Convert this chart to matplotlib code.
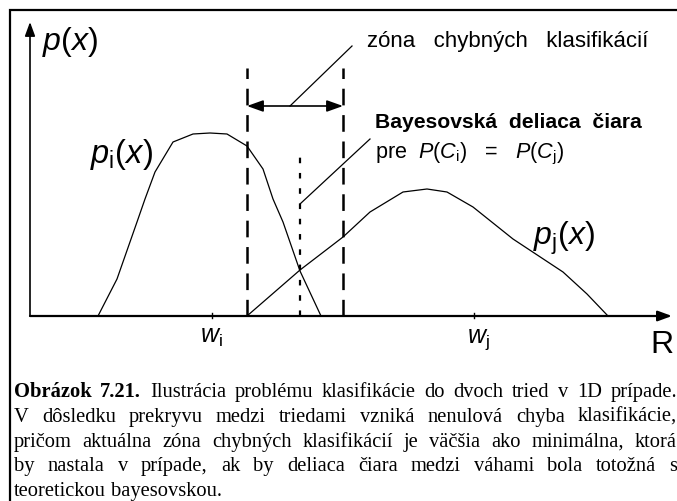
import matplotlib
matplotlib.use("Agg")
import matplotlib.pyplot as plt

plt.rcParams['font.family'] = ['Liberation Sans', 'DejaVu Sans']
plt.rcParams['mathtext.fontset'] = 'custom'
plt.rcParams['mathtext.rm'] = 'Liberation Sans'
plt.rcParams['mathtext.it'] = 'Liberation Sans:italic'
plt.rcParams['mathtext.bf'] = 'Liberation Sans:bold'
plt.rcParams['lines.scale_dashes'] = False

# class-conditional densities (sketch, arbitrary units)
xi = [6.8, 8.7, 10.7, 11.5, 12.5, 14.3, 16.3, 18.0, 19.7, 21.7, 23.3, 24.3, 25.3, 27.0, 29.1]
pi = [0.0, 3.7, 9.4, 11.7, 14.4, 17.4, 18.2, 18.3, 18.2, 17.0, 14.7, 11.7, 9.4, 4.5, 0.0]
xj = [21.7, 27.0, 30.0, 31.3, 34.0, 37.3, 39.7, 41.7, 44.3, 48.3, 53.3, 55.7, 57.8]
pj = [0.0, 4.6, 6.9, 7.9, 10.4, 12.4, 12.7, 12.4, 10.9, 7.7, 4.4, 2.2, 0.0]

w_i = 18.2          # weight of class i
w_j = 44.4          # weight of class j
bound_lo = 21.7     # actual decision zone borders
bound_hi = 31.3
bayes_x = 27.0      # Bayes boundary (p_i = p_j)
x_max = 64.2
y_max = 29.4

caption = [
    "Obrázok 7.21. Ilustrácia problému klasifikácie do dvoch tried v 1D prípade.",
    "V dôsledku prekryvu medzi triedami vzniká nenulová chyba klasifikácie,",
    "pričom aktuálna zóna chybných klasifikácií je väčšia ako minimálna, ktorá",
    "by nastala v prípade, ak by deliaca čiara medzi váhami bola totožná s",
    "teoretickou bayesovskou.",
]

W, H = 677, 502
fig = plt.figure(figsize=(W / 100, H / 100), dpi=100)

# page axes in pixels: frame + caption
page = fig.add_axes([0, 0, 1, 1])
page.set_xlim(0, W)
page.set_ylim(H, 0)
page.axis('off')
page.plot([9.5, 9.5, W + 5], [H + 5, 10.5, 10.5], color='black', lw=1.6,
          solid_joinstyle='miter')

# diagram axes
ax = fig.add_axes([30 / W, (H - 317) / H, 642 / W, 294 / H])
ax.set_xlim(0, x_max)
ax.set_ylim(0, y_max)
ax.axis('off')

arrow_kw = dict(arrowstyle='-|>,head_length=0.6,head_width=0.22',
                color='black', lw=1.2, shrinkA=0, shrinkB=0, mutation_scale=14)
ax.annotate('', xy=(0, y_max), xytext=(0, 0), arrowprops=arrow_kw,
            annotation_clip=False)
ax.annotate('', xy=(x_max, 0), xytext=(0, 0),
            arrowprops=dict(arrow_kw, lw=1.6), annotation_clip=False)

ax.plot(xi, pi, color='black', lw=0.9, clip_on=False)
ax.plot(xj, pj, color='black', lw=0.9, clip_on=False)

for xb in (bound_lo, bound_hi):
    ax.plot([xb, xb], [0, 24.8], color='black', lw=1.8,
            linestyle=(0, (12, 7)), clip_on=False)
ax.plot([bayes_x, bayes_x], [0, 16.0], color='black', lw=1.6,
        linestyle=(0, (4, 7)), clip_on=False)

for w in (w_i, w_j):
    ax.plot([w, w], [-0.2, 0.3], color='black', lw=1.0, clip_on=False)

# zone arrow and leader lines
ax.annotate('', xy=(bound_lo, 21.0), xytext=(bound_hi, 21.0),
            arrowprops=dict(arrowstyle='<|-|>,head_length=0.7,head_width=0.25',
                            color='black', lw=1.2, shrinkA=0, shrinkB=0,
                            mutation_scale=14), annotation_clip=False)
ax.plot([26.0, 32.2], [21.0, 27.0], color='black', lw=0.9, clip_on=False)
ax.plot([bayes_x, 34.0], [11.2, 17.7], color='black', lw=0.9, clip_on=False)

# labels
ax.text(1.2, 26.7, r'$p(x)$', fontsize=23, va='baseline', ha='left')
ax.text(6.0, 15.4, r'$p_{\mathrm{i}}(x)$', fontsize=23.5, va='baseline', ha='left')
ax.text(50.3, 7.2, r'$p_{\mathrm{j}}(x)$', fontsize=23, va='baseline', ha='left')
ax.text(17.0, -2.6, r'$w_{\mathrm{i}}$', fontsize=18, va='baseline', ha='left')
ax.text(43.7, -2.6, r'$w_{\mathrm{j}}$', fontsize=18, va='baseline', ha='left')
ax.text(62.0, -3.6, 'R', fontsize=23, va='baseline', ha='left')

ax.text(33.7, 27.0, 'zóna   chybných   klasifikácií', fontsize=16,
        va='baseline', ha='left')
ax.text(34.5, 18.9, 'Bayesovská  deliaca  čiara', fontsize=15.2,
        fontweight='bold', va='baseline', ha='left')
ax.text(34.5, 15.9, r'pre  $P(C_{\mathrm{i}})$   =   $P(C_{\mathrm{j}})$',
        fontsize=15.6, va='baseline', ha='left')

# justified caption in serif
serif = ['Liberation Serif', 'DejaVu Serif']
cap_size = 14.8
left, right = 14, 677
base0, step = 397, 24.8
fig.canvas.draw()
renderer = fig.canvas.get_renderer()
for k, line in enumerate(caption):
    words = line.split(' ')
    y = base0 + k * step
    arts = []
    for n, word in enumerate(words):
        bold = (k == 0 and n < 2)
        t = page.text(0, y, word, fontsize=cap_size, family=serif,
                      fontweight='bold' if bold else 'normal',
                      va='baseline', ha='left')
        arts.append(t)
    widths = [a.get_window_extent(renderer).width for a in arts]
    if k < len(caption) - 1:
        gap = (right - left - sum(widths)) / (len(words) - 1)
    else:
        gap = cap_size * 100 / 72 * 0.25
    xpos = left
    for a, wd in zip(arts, widths):
        a.set_x(xpos)
        xpos += wd + gap

fig.savefig('out.png', dpi=100)
